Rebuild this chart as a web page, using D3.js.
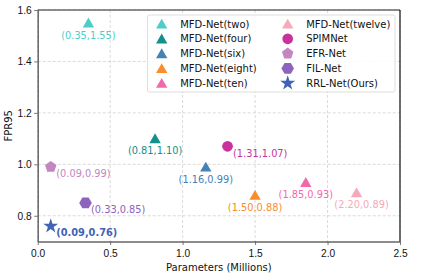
<!DOCTYPE html>
<html>
<head>
<meta charset="utf-8">
<script src="https://cdn.jsdelivr.net/npm/d3@7"></script>
<style>
  body { margin: 0; background: #fff; }
  svg { font-family: 'DejaVu Sans', sans-serif; }
  .grid line { stroke: #d0d0d0; stroke-dasharray: 3,2; stroke-width: 0.8; }
</style>
</head>
<body>
<svg id="chart" width="421" height="273"></svg>
<script>
// chart data
const models = ['MFD-Net(two)', 'MFD-Net(four)', 'MFD-Net(six)', 'MFD-Net(eight)', 'MFD-Net(ten)',
  'MFD-Net(twelve)', 'SPIMNet', 'EFR-Net', 'FIL-Net', 'RRL-Net(Ours)']
const params = [0.35, 0.81, 1.16, 1.50, 1.85, 2.20, 1.31, 0.09, 0.33, 0.09]
const fpr95 = [1.55, 1.10, 0.99, 0.88, 0.93, 0.89, 1.07, 0.99, 0.85, 0.76]
const labels = ['(0.35,1.55)', '(0.81,1.10)', '(1.16,0.99)', '(1.50,0.88)', '(1.85,0.93)',
  '(2.20,0.89)', '(1.31,1.07)', '(0.09,0.99)', '(0.33,0.85)', '(0.09,0.76)']
const xTicks = [0, 0.5, 1.0, 1.5, 2.0, 2.5]
const yTicks = [0.8, 1.0, 1.2, 1.4, 1.6]

// styling per model
const colors = ['#4ecdc6', '#13908b', '#4682b4', '#fb8c2c', '#f06aab',
  '#f6a9b7', '#c8339b', '#c585c0', '#8d63be', '#3f63b6']
const shapes = ['tri', 'tri', 'tri', 'tri', 'tri', 'tri', 'circle', 'pent', 'hex', 'star']
// label placement: 'below' centred under marker, otherwise to the lower right
const labelPos = ['below', 'below', 'below', 'below', 'below', 'below2', 'right', 'right', 'right', 'right']

const svg = d3.select('#chart')
const margin = { top: 10, right: 21, bottom: 31.5, left: 37.7 }
const width = +svg.attr('width') - margin.left - margin.right
const height = +svg.attr('height') - margin.top - margin.bottom
const g = svg.append('g').attr('transform', `translate(${margin.left},${margin.top})`)

const xScale = d3.scaleLinear().domain([0, 2.5]).range([0, width])
const yScale = d3.scaleLinear().domain([0.7, 1.6]).range([height, 0])

// grid
g.append('g').attr('class', 'grid')
  .selectAll('line').data(xTicks).enter().append('line')
  .attr('x1', d => xScale(d)).attr('x2', d => xScale(d))
  .attr('y1', 0).attr('y2', height)
g.append('g').attr('class', 'grid')
  .selectAll('line').data(yTicks).enter().append('line')
  .attr('x1', 0).attr('x2', width)
  .attr('y1', d => yScale(d)).attr('y2', d => yScale(d))

// axes
const xAxis = d3.axisBottom(xScale).tickValues(xTicks).tickFormat(d3.format('.1f'))
  .tickSizeInner(3.5).tickSizeOuter(0).tickPadding(5)
const yAxis = d3.axisLeft(yScale).tickValues(yTicks).tickFormat(d3.format('.1f'))
  .tickSizeInner(3.5).tickSizeOuter(0).tickPadding(2.5)
const xg = g.append('g').attr('transform', `translate(0,${height})`).call(xAxis)
const yg = g.append('g').call(yAxis)
;[xg, yg].forEach(a => {
  a.select('.domain').attr('stroke', '#666').attr('stroke-width', 1.5)
  a.selectAll('.tick line').attr('stroke', '#555').attr('stroke-width', 0.8)
  a.selectAll('.tick text').attr('fill', '#111').style('font-size', '10.2px')
})
// top and right frame
g.append('line').attr('x1', 0).attr('x2', width).attr('y1', 0).attr('y2', 0)
  .attr('stroke', '#222').attr('stroke-width', 1)
g.append('line').attr('x1', width).attr('x2', width).attr('y1', 0).attr('y2', height)
  .attr('stroke', '#111').attr('stroke-width', 1.2)

// axis titles
svg.append('text').attr('x', margin.left + width / 2).attr('y', 270.5)
  .attr('text-anchor', 'middle').style('font-size', '10px').attr('fill', '#111')
  .text('Parameters (Millions)')
svg.append('text')
  .attr('transform', `translate(11.5,${margin.top + height / 2}) rotate(-90)`)
  .attr('text-anchor', 'middle').style('font-size', '10px').attr('fill', '#111')
  .text('FPR95')

// symbols
const symbolFor = shape => {
  const sizes = { tri: 56, circle: 90, star: 70 }
  const types = { tri: d3.symbolTriangle, circle: d3.symbolCircle, star: d3.symbolStar }
  if (shape === 'pent' || shape === 'hex') {
    const n = shape === 'pent' ? 5 : 6
    const r = shape === 'pent' ? 6 : 6.3
    const off = shape === 'pent' ? -Math.PI / 2 : 0
    const pts = d3.range(n).map(i => {
      const a = off + i * 2 * Math.PI / n
      return [r * Math.cos(a), r * Math.sin(a)]
    })
    return 'M' + pts.map(p => p.join(',')).join('L') + 'Z'
  }
  return d3.symbol().type(types[shape]).size(sizes[shape])()
}
const triShift = s => s === 'tri' ? 1.3 : 0

const idx = d3.range(models.length)
g.append('g').selectAll('path').data(idx).enter().append('path')
  .attr('d', i => symbolFor(shapes[i]))
  .attr('transform', i => `translate(${xScale(params[i])},${yScale(fpr95[i]) + triShift(shapes[i])})`)
  .attr('fill', i => colors[i])

// annotations
g.append('g').selectAll('text').data(idx).enter().append('text')
  .attr('x', i => {
    const x = xScale(params[i])
    if (labelPos[i] === 'below') return x
    if (labelPos[i] === 'below2') return x + 5
    return x + 5.5
  })
  .attr('y', i => yScale(fpr95[i]) + (labelPos[i] === 'right' ? 10.3 : 15.8))
  .attr('text-anchor', i => labelPos[i] === 'right' ? 'start' : 'middle')
  .attr('fill', i => colors[i])
  .style('font-size', '9.8px')
  .style('font-weight', i => i === 9 ? 'bold' : 'normal')
  .text(i => labels[i])

// legend
const legend = svg.append('g')
legend.append('rect')
  .attr('x', 147.5).attr('y', 15).attr('width', 247.5).attr('height', 77).attr('rx', 2)
  .attr('fill', 'rgba(255,255,255,0.85)').attr('stroke', '#d6d6d6').attr('stroke-width', 0.8)
idx.forEach(i => {
  const col = Math.floor(i / 5)
  const row = i % 5
  const mx = col === 0 ? 161.7 : 287.7
  const my = 24 + row * 14.8
  legend.append('path')
    .attr('d', symbolFor(shapes[i]))
    .attr('transform', `translate(${mx},${my + triShift(shapes[i])})`)
    .attr('fill', colors[i])
  legend.append('text')
    .attr('x', mx + 18.5).attr('y', my + 3.6)
    .style('font-size', '10px').attr('fill', '#111')
    .text(models[i])
})
</script>
</body>
</html>
